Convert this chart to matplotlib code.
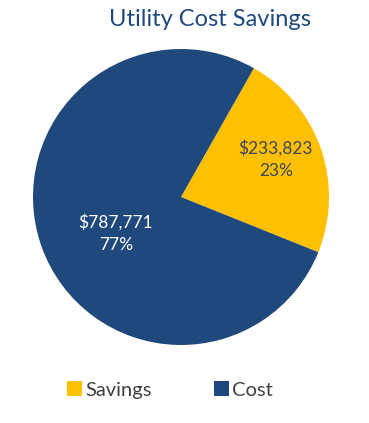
import matplotlib
matplotlib.use("Agg")
import matplotlib.pyplot as plt

categories = ["Savings", "Cost"]
values = [233823, 787771]
colors = ["#FFC000", "#1F497D"]
title = "Utility Cost Savings"

plt.rcParams['font.family'] = ['Lato', 'DejaVu Sans']

fig = plt.figure(figsize=(3.69, 4.23), dpi=100)
ax = fig.add_axes([33/369, 78/423, 296/369, 296/423])
total = sum(values)
wedges, _ = ax.pie(values, colors=colors, startangle=60.5, counterclock=False,
                   radius=1, wedgeprops=dict(linewidth=0))
ax.set_xlim(-1, 1)
ax.set_ylim(-1, 1)
ax.set_aspect('equal')

label_pos = [(0.64, 0.255), (-0.44, -0.245)]
label_colors = ["#3A4660", "white"]
for v, (x, y), c in zip(values, label_pos, label_colors):
    ax.text(x, y, f"${v:,}\n{round(v/total*100):.0f}%", ha='center', va='center',
            fontsize=12.5, color=c, linespacing=1.5)

fig.text(210/369, 1 - 19/423, title, ha='center', va='center', fontsize=17,
         color="#1F497D")

leg = fig.legend(wedges, categories, loc='center', bbox_to_anchor=(170/369, 1 - 390/423),
                 ncol=2, frameon=False, fontsize=14.5, handlelength=0.75, handleheight=0.75,
                 handletextpad=0.15, columnspacing=3.1, labelcolor="#404040")
fig.savefig("out.png", dpi=100)
